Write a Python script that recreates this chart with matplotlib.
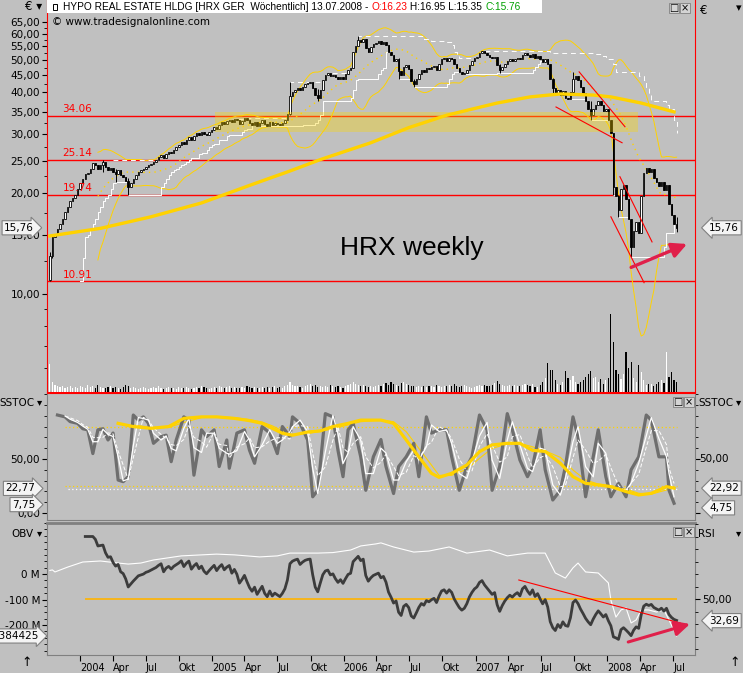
import matplotlib
matplotlib.use("Agg")
import matplotlib.pyplot as plt
import matplotlib.dates as mdates
from matplotlib import font_manager
from matplotlib.patches import Rectangle
from matplotlib.text import Annotation
from matplotlib.ticker import FixedLocator, FuncFormatter, NullFormatter, MultipleLocator
import numpy as np
import pandas as pd

# ---- weekly closes in EUR, one list per calendar year ----
close_2003 = [13.0, 14.8, 15.0, 15.6, 16.2, 16.8, 17.6, 18.2, 19.0, 19.4,
              19.8, 20.6]
close_2004 = [21.5, 22.0, 22.8, 23.0, 23.6, 24.6, 24.3, 23.6,
              24.2, 24.8, 24.0, 23.5, 23.8, 23.2, 22.8, 23.4, 22.6, 22.4,
              21.8, 20.8, 21.4, 22.0, 22.6, 23.2, 23.4, 23.6, 24.0, 24.2,
              24.5, 24.8, 25.1, 25.6, 26.0, 25.4, 26.2, 26.6, 26.4, 27.0,
              27.4, 27.8, 28.4, 28.0, 28.8, 29.4, 28.8, 29.6, 30.2, 29.8,
              30.4, 30.0, 29.8, 30.4, 31.0]
close_2005 = [31.6, 31.2, 32.0, 32.6, 32.2,
              32.8, 33.2, 32.6, 33.4, 33.0, 32.2, 32.8, 33.6, 33.0, 32.4,
              32.0, 32.6, 31.8, 32.4, 33.0, 32.2, 31.8, 32.6, 32.0, 32.4,
              32.2, 32.0, 32.4, 33.0, 34.4, 39.0, 40.2, 40.8, 41.2, 40.6,
              41.6, 42.4, 42.8, 43.0, 41.2, 39.4, 38.6, 40.8, 43.6, 45.2,
              45.6, 44.8, 45.2, 44.4, 43.8, 44.6, 44.0]
close_2006 = [45.4, 46.8, 47.2,
              53.0, 55.0, 57.4, 56.6, 57.8, 54.4, 53.0, 54.6, 55.8, 56.4,
              57.0, 56.0, 56.6, 55.4, 53.0, 51.6, 49.8, 50.4, 46.4, 45.0,
              47.6, 48.2, 47.0, 43.4, 42.4, 43.8, 45.4, 46.6, 46.0, 47.4,
              47.0, 47.6, 48.0, 46.8, 48.6, 50.2, 50.6, 49.8, 50.8, 50.2,
              48.6, 47.4, 46.2, 45.4, 45.8, 46.8, 48.4, 49.6, 50.6]
close_2007 = [51.2,
              52.6, 53.2, 52.4, 51.8, 51.2, 50.6, 51.0, 48.4, 46.6, 47.8,
              48.8, 49.6, 50.2, 49.8, 50.4, 50.8, 50.2, 51.8, 52.4, 51.6,
              51.0, 52.0, 50.8, 51.4, 50.4, 49.4, 50.2, 48.6, 44.0, 41.2,
              39.6, 40.8, 39.2, 40.4, 38.6, 38.2, 40.0, 44.0, 44.8, 43.6,
              41.6, 39.8, 37.6, 35.8, 34.2, 35.6, 36.8, 37.8, 36.6, 35.2,
              35.8]
close_2008 = [33.0, 30.2, 20.8, 19.6, 17.8, 20.6, 21.2, 19.2, 16.8,
              13.8, 15.4, 16.4, 15.2, 19.6, 23.0, 23.8, 23.2, 23.6, 22.2,
              21.6, 21.0, 21.6, 20.4, 21.2, 18.6, 17.2, 16.23, 15.76]
first_open = 11.0

# weeks with visible wicks beyond the body: week index, low, high
wick_weeks = [0, 1, 21, 26, 31, 95, 106, 122, 138, 144, 178, 199, 207, 214, 223, 225, 230, 248]
wick_lows = [10.91, 12.8, 23.2, 21.6, 19.8, 34.2, 37.6, 55.0, 44.0, 41.6, 45.8, 39.8, 40.0, 33.2, 19.8, 17.0, 12.9, 15.35]
wick_highs = [13.3, 15.0, 25.2, 23.6, 22.2, 43.0, 41.0, 59.0, 50.6, 44.0, 48.6, 44.2, 46.0, 37.8, 30.2, 19.8, 16.8, 16.95]

# weekly volume, millions of shares
vol_2003 = [14.0, 5.0, 3.5, 3.0, 2.5, 3.0, 2.0, 2.5, 3.0, 2.0, 2.5, 2.0]
vol_2004 = [3.0, 2.5, 2.0, 3.5, 2.5, 3.0, 2.0, 3.5, 2.5, 2.0,
            2.0, 2.5, 3.0, 2.0, 2.5, 2.0, 1.5, 2.5, 3.5, 3.0,
            2.0, 2.5, 2.0, 1.5, 2.0, 2.5, 2.0, 1.5, 2.0, 2.5,
            2.0, 3.0, 2.0, 1.5, 2.0, 2.5, 2.0, 2.0, 1.5, 2.5,
            2.0, 2.0, 2.5, 2.0, 1.5, 2.0, 2.5, 2.0, 3.0, 2.5,
            2.0, 1.5, 2.0]
vol_2005 = [2.5, 2.0, 3.0, 2.5, 2.0, 2.5, 3.0, 2.0, 2.5, 2.0,
            2.0, 2.5, 2.0, 3.0, 2.5, 2.0, 2.5, 2.0, 2.0, 2.5,
            2.0, 2.5, 2.0, 2.5, 3.0, 2.0, 2.5, 2.0, 3.0, 3.5,
            5.0, 3.5, 3.0, 3.0, 2.5, 2.0, 3.0, 3.5, 4.0, 3.0,
            3.5, 2.5, 3.0, 2.5, 3.0, 2.5, 3.5, 3.0, 2.5, 3.0,
            2.5, 2.0]
vol_2006 = [3.0, 3.5, 4.0, 5.0, 4.0, 3.5, 3.0, 3.5, 3.0, 2.5,
            3.0, 2.5, 3.0, 3.5, 3.0, 4.0, 4.5, 3.5, 5.0, 4.0,
            3.5, 3.0, 4.5, 5.0, 4.0, 3.5, 3.0, 3.0, 2.5, 3.0,
            2.5, 3.0, 2.5, 3.0, 3.0, 2.5, 3.5, 3.0, 2.5, 3.0,
            3.0, 3.5, 3.0, 4.0, 3.0, 2.5, 3.0, 3.5, 3.0, 2.5,
            2.0, 2.5]
vol_2007 = [3.0, 3.5, 3.0, 3.5, 3.0, 3.0, 3.5, 4.5, 5.5, 4.0, 3.5,
            3.0, 3.0, 3.5, 3.0, 3.5, 3.0, 3.0, 3.5, 4.0, 3.5,
            3.0, 4.0, 2.5, 2.5, 3.5, 5.0, 7.0, 14.5, 11.0, 11.0,
            6.0, 4.0, 3.5, 5.0, 10.5, 7.0, 6.0, 8.0, 5.0, 4.0,
            5.0, 6.0, 7.5, 9.0, 10.5, 7.0, 7.5, 5.0, 6.5, 4.0,
            6.0]
vol_2008 = [7.0, 39.0, 25.0, 11.0, 9.0, 6.5, 9.0, 20.0, 12.0, 15.0,
            7.0, 5.0, 13.5, 10.0, 6.0, 3.5, 4.0, 4.0, 3.0, 4.0,
            5.0, 6.0, 4.5, 20.0, 7.5, 10.0, 6.0, 5.0]

# long yellow average, read at a few weeks
ma_weeks = [0, 20, 40, 60, 79, 95, 107, 127, 142, 157, 177, 190, 202, 215, 222, 234, 247]
ma_values = [14.9, 15.7, 17.0, 18.7, 21.1, 23.3, 25.2, 28.3, 31.4, 34.2, 37.2, 38.8, 39.6, 39.3, 38.8, 37.2, 35.0]

# slow stochastic (grey line), read at these weeks
stoch_weeks = [3, 6, 8, 11, 13, 15, 17, 19, 21, 23, 25, 27, 29, 31, 33, 35, 37, 39, 41, 44,
               46, 48, 50, 53, 55, 57, 60, 62, 65, 67, 70, 71, 74, 77, 79, 81, 84, 87, 90, 92,
               95, 96, 99, 102, 104, 106, 109, 112, 114, 116, 118, 120, 123, 125, 128, 131, 133, 136, 138, 141,
               144, 146, 149, 151, 154, 157, 159, 162, 165, 167, 170, 173, 175, 178, 181, 183, 186, 189, 191, 194,
               196, 199, 202, 204, 207, 209, 212, 215, 217, 220, 222, 225, 228, 230, 233, 236, 238, 241, 244, 245,
               247]
stoch_values = [90.7, 89, 84.6, 83, 78, 77, 55, 77, 78, 67.6, 74, 30.5, 29, 33.6, 90.7, 86, 89, 83, 64.5, 70.7,
                72, 47.5, 67.6, 89, 86, 35, 77, 70.7, 77, 43, 67.6, 41.4, 74, 77, 58, 46, 80, 74, 55, 80,
                70.7, 89, 83, 67.6, 15, 21, 92, 89, 58, 33.6, 77, 83, 52, 21, 52, 68, 43, 18, 43, 52,
                64.5, 33.6, 89, 74, 77, 77, 52, 21, 43, 52, 90.7, 77, 21, 43, 92, 77, 49, 33.6, 43, 77,
                40, 12, 21, 43, 89, 70.7, 15, 52, 77, 33.6, 15, 27.5, 15, 40, 52, 90.7, 86, 52, 52, 21,
                9]
# long stochastic (thick yellow line), read at these weeks
lstoch_weeks = [27, 33, 40, 47, 53, 60, 66, 73, 79, 84, 88, 92, 96, 102, 107, 112, 118, 123, 131, 136,
                141, 146, 151, 154, 159, 165, 170, 175, 181, 186, 191, 196, 202, 207, 212, 217, 222, 228, 233, 238,
                244, 247]
lstoch_values = [83, 80, 78.4, 80, 87.6, 89, 89, 87.6, 85.5, 83, 78.4, 73.8, 72, 75, 76, 80, 83, 86, 86, 83,
                 67.6, 52, 36.7, 33, 36.7, 44.4, 56.8, 63, 64.5, 64.5, 58, 57, 46, 33.6, 27.5, 26, 24.4, 19.8, 16.7, 18.2,
                 24.4, 23]

# OBV (white line, lower panel), millions
obv_weeks = [0, 1, 2, 7, 13, 20, 27, 31, 36, 41, 52, 60, 66, 73, 83, 90, 95, 106, 112, 119,
             123, 129, 131, 136, 144, 150, 158, 165, 174, 181, 189, 196, 198, 200, 204, 207,
             209, 212, 217, 221, 222, 224, 226, 228, 230, 232, 234, 237, 240, 243, 245, 248]
obv_values = [14, 16, 8, 27, 47, 51, 43, 39, 43, 55, 71, 75, 78, 75, 67, 71, 82, 82, 84, 94,
              110, 118, 122, 106, 86, 90, 106, 82, 94, 71, 82, 82, 43, 4, -16, 24,
              43, 8, 4, -35, -102, -169, -141, -133, -192, -180, -141, -141, -149, -141, -180, -243]

support_levels = [34.06, 25.14, 19.74, 10.91]
zone_dates = ["2005-01-09", "2008-03-26"]
zone_prices = [30.5, 35.0]

# hand drawn trend lines (date, price) and arrows
trend_lines = [(("2007-08-12", 36.2), ("2008-02-11", 28.3)),
               (("2007-10-15", 46.1), ("2008-02-19", 31.6)),
               (("2008-02-05", 22.4), ("2008-05-04", 14.3)),
               (("2008-01-11", 17.0), ("2008-04-12", 10.8))]
price_arrow = (("2008-03-07", 12.0), ("2008-08-09", 14.1))
rsi_line = (("2007-05-01", 65.2), ("2008-07-21", 30.8))
rsi_arrow = (("2008-02-28", 15.6), ("2008-08-17", 30.0))

price_ticks = [10, 15, 20, 25, 30, 35, 40, 45, 50, 55, 60, 65]
price_minor = [6, 7, 8, 9, 12.5, 17.5, 22.5, 27.5, 32.5, 37.5, 42.5, 47.5, 52.5, 57.5, 62.5]
month_names = {4: "Apr", 7: "Jul", 10: "Okt"}

# ---------------------------------------------------------------------------
W, H = 743, 673
BG = "#C0C0C0"
GOLD = "#FFD200"
CRIMSON = "#E0204A"


def fx(px):
    return px / W


def fy(py):
    return 1 - py / H


def comma(v, _=None):
    return f"{v:.2f}".replace(".", ",")


names = {f.name for f in font_manager.fontManager.ttflist}
narrow = "Liberation Sans Narrow" if "Liberation Sans Narrow" in names else None
plt.rcParams["font.family"] = ["DejaVu Sans"]

closes = np.array(close_2003 + close_2004 + close_2005 + close_2006 + close_2007 + close_2008)
volumes = np.array(vol_2003 + vol_2004 + vol_2005 + vol_2006 + vol_2007 + vol_2008)
dates = pd.date_range("2003-10-10", periods=len(closes), freq="W-FRI")
x = mdates.date2num(dates)

opens = np.r_[first_open, closes[:-1]]
highs = np.maximum(opens, closes)
lows = np.minimum(opens, closes)
for i, lo, hi in zip(wick_weeks, wick_lows, wick_highs):
    lows[i] = min(lows[i], lo)
    highs[i] = max(highs[i], hi)
up = closes >= opens

c = pd.Series(closes)
hs, ls = pd.Series(highs), pd.Series(lows)
bb_mid = c.rolling(20).mean()
bb_sd = c.rolling(20).std(ddof=0)
bb_up, bb_lo = bb_mid + 2 * bb_sd, bb_mid - 2 * bb_sd
don_lo = ls.rolling(13).min()
don_hi = hs.rolling(26).max()

delta = c.diff()
gain = delta.clip(lower=0).ewm(alpha=1 / 14, min_periods=14, adjust=False).mean()
loss = (-delta.clip(upper=0)).ewm(alpha=1 / 14, min_periods=14, adjust=False).mean()
rsi = 100 - 100 / (1 + gain / loss)

# signal lines of the stochastic: short running means of the read points
k = pd.Series(stoch_values)
d1 = k.rolling(2).mean()
d2 = k.rolling(3, min_periods=2).mean()
lk = pd.Series(lstoch_values)
lk_thin = lk.rolling(2).mean()

xlim = (mdates.date2num(pd.Timestamp("2003-10-02")), mdates.date2num(pd.Timestamp("2008-08-31")))

fig = plt.figure(figsize=(7.43, 6.73), dpi=100, facecolor=BG)

# ---------------- price panel ----------------
ax = fig.add_axes([fx(47), fy(392), fx(695) - fx(47), fy(0) - fy(392)], facecolor=BG)
ax.set_yscale("log")
ax.set_xlim(xlim)
ax.set_ylim(5.09, 75.6)

for lvl in support_levels:
    ax.axhline(lvl, color="#FF0000", lw=1.0, zorder=1)
    ax.text(x[5], lvl * 1.012, f"{lvl:.2f}", color="#FF0000", fontsize=7.5, va="bottom", zorder=6)

ax.plot(x, bb_up, color=GOLD, lw=0.7, zorder=2)
ax.plot(x, bb_lo, color=GOLD, lw=0.7, zorder=2)
ax.plot(x, bb_mid, color=GOLD, lw=1.0, ls=(0, (1, 3)), zorder=2)
ax.step(x, don_lo, where="post", color="white", lw=0.7, zorder=2)
ax.step(x, don_hi, where="post", color="white", lw=0.7, ls=(0, (5, 4)), zorder=2)

body_lo = np.minimum(opens, closes)
body_h = np.maximum(np.abs(closes - opens), closes * 0.006)
ax.vlines(x, lows, highs, color="black", lw=0.7, zorder=3)
ax.bar(x, body_h, bottom=body_lo, width=4.2, color=np.where(up, "white", "black"),
       edgecolor="black", linewidth=0.6, zorder=3)

z0, z1 = mdates.date2num(pd.to_datetime(zone_dates))
ax.add_patch(Rectangle((z0, zone_prices[0]), z1 - z0, zone_prices[1] - zone_prices[0],
                       facecolor="#FFD700", alpha=0.35, edgecolor="none", zorder=4))

ax.plot(x[ma_weeks], ma_values, color=GOLD, lw=2.4, zorder=5)

for (d0, p0), (d1_, p1) in trend_lines:
    ax.plot(mdates.date2num(pd.to_datetime([d0, d1_])), [p0, p1], color="#FF0000", lw=0.8, zorder=5)
(a0, pa0), (a1, pa1) = price_arrow
ax.annotate("", xy=(mdates.date2num(pd.Timestamp(a1)), pa1),
            xytext=(mdates.date2num(pd.Timestamp(a0)), pa0),
            arrowprops=dict(arrowstyle="-|>,head_length=0.9,head_width=0.45", color=CRIMSON,
                            lw=2.4, shrinkA=0, shrinkB=0), zorder=7)

ax.yaxis.set_major_locator(FixedLocator(price_ticks))
ax.yaxis.set_major_formatter(FuncFormatter(comma))
ax.yaxis.set_minor_locator(FixedLocator(price_minor))
ax.yaxis.set_minor_formatter(NullFormatter())
ax.tick_params(axis="y", which="both", left=True, right=True, labelleft=True, labelright=True,
               direction="out", colors="black", labelsize=7.5, pad=1.5)
ax.tick_params(axis="y", which="major", length=3.5)
ax.tick_params(axis="y", which="minor", length=2)
ax.tick_params(axis="x", bottom=False, labelbottom=False)
for side in ("left", "right", "bottom"):
    ax.spines[side].set_color("#FF0000")
ax.spines["top"].set_visible(False)

vol_ax = ax.twinx()
vol_ax.set_ylim(0, 196)
vol_ax.bar(x, volumes, width=3.2, color=np.where(up, "white", "black"), linewidth=0)
vol_ax.set_axis_off()

marker_box_r = dict(boxstyle="rarrow,pad=0.2", fc="#F4F4F4", ec="#808080", lw=0.8)
marker_box_l = dict(boxstyle="larrow,pad=0.2", fc="#F4F4F4", ec="#808080", lw=0.8)
ytr = ax.get_yaxis_transform()
ax.text(-0.02, closes[-1], comma(closes[-1]), transform=ytr, ha="right", va="center", fontsize=7.5,
        bbox=marker_box_r, clip_on=False, zorder=8)
ax.text(1.022, closes[-1], comma(closes[-1]), transform=ytr, ha="left", va="center", fontsize=7.5,
        bbox=marker_box_l, clip_on=False, zorder=8)

fig.text(fx(52), fy(22), "\u00a9 www.tradesignalonline.com", fontsize=7.5, va="center")
if narrow:
    fig.text(fx(340), fy(248), "HRX weekly", family=narrow, fontsize=22, va="center")
else:
    fig.text(fx(340), fy(248), "HRX weekly", family="Liberation Sans", fontsize=19, va="center")

# header bar
fig.add_artist(Rectangle((fx(47), fy(13)), fx(542) - fx(47), fy(0) - fy(13),
                         transform=fig.transFigure, fc="white", ec="none", zorder=5))
fig.add_artist(Rectangle((fx(53), fy(10)), fx(4), fy(4) - fy(10), transform=fig.transFigure,
                         fc="white", ec="black", lw=0.7, zorder=6))
prev = fig.text(fx(63), fy(12), "HYPO REAL ESTATE HLDG [HRX GER  W\u00f6chentlich] 13.07.2008 - ",
                family="Liberation Sans", fontsize=7.3, va="bottom", zorder=7)
for part, col in (("O:16.23", "#FF0000"), (" H:16.95 L:15.35 ", "black"), ("C:15.76", "#00A000")):
    prev = fig.add_artist(Annotation(part, xy=(1, 0), xycoords=prev, va="bottom", ha="left",
                                     color=col, family="Liberation Sans", fontsize=7.3, zorder=7))

fig.text(fx(25), fy(7), "\u20ac \u25be", fontsize=8.5, va="center", ha="left")
fig.text(fx(700), fy(11), "\u20ac", fontsize=8.5, va="center", ha="left")
fig.text(fx(736), fy(8), "\u25be", fontsize=8, va="center", ha="left")


def window_buttons(xl, yc):
    for dx, glyph in ((0, "\u25a1"), (11, "\u00d7")):
        fig.text(fx(xl + dx), fy(yc), glyph, fontsize=7, ha="center", va="center",
                 bbox=dict(boxstyle="square,pad=0.05", fc="#D4D4D4", ec="#808080", lw=0.6))


window_buttons(674, 8)

# ---------------- SSTOC panel ----------------
sax = fig.add_axes([fx(47), fy(520), fx(695) - fx(47), fy(393) - fy(520)], facecolor=BG)
sax.set_xlim(xlim)
sax.set_ylim(-6.5, 111.1)
sx = x[stoch_weeks]
lx = x[lstoch_weeks]
sax.hlines([80, 25], x[6], x[-1], colors=GOLD, lw=0.9, linestyles=(0, (1, 2)))
sax.hlines([22], x[7], x[-1], colors="white", lw=0.9, linestyles=(0, (1, 2)))
sax.plot(lx, lk_thin, color=GOLD, lw=0.8)
sax.plot(sx, k, color="#6E6E6E", lw=2.3)
sax.plot(sx, d1, color="white", lw=0.9)
sax.plot(sx, d2, color="white", lw=0.7, ls=(0, (4, 2)))
sax.plot(lx, lk, color=GOLD, lw=2.3)
sax.yaxis.set_major_locator(FixedLocator([0, 50]))
sax.yaxis.set_major_formatter(FuncFormatter(comma))
sax.yaxis.set_minor_locator(MultipleLocator(10))
sax.tick_params(axis="y", which="both", left=True, right=True, labelleft=True, labelright=False,
                direction="out", labelsize=7.5, pad=1.5)
sax.tick_params(axis="y", which="major", length=3.5)
sax.tick_params(axis="y", which="minor", length=2)
sax.tick_params(axis="x", bottom=False, labelbottom=False)
for side in ("left", "right", "bottom"):
    sax.spines[side].set_color("#808080")
sax.spines["top"].set_color("#FF0000")
str_ = sax.get_yaxis_transform()
sax.text(1.006, 50, "50,00", transform=str_, ha="left", va="center", fontsize=7.5, clip_on=False)

for val, lab in ((22.77, "22,77"), (7.75, "7,75")):
    sax.text(-0.018, val, lab, transform=str_, ha="right", va="center", fontsize=7.5,
             bbox=marker_box_r, clip_on=False)
for val, lab in ((22.92, "22,92"), (4.75, "4,75")):
    sax.text(1.022, val, lab, transform=str_, ha="left", va="center", fontsize=7.5,
             bbox=marker_box_l, clip_on=False)
fig.text(fx(35), fy(403), "SSTOC", fontsize=7.5, ha="right", va="center")
fig.text(fx(37), fy(402), "\u25be", fontsize=7.5, ha="left", va="center")
fig.text(fx(698), fy(403), "SSTOC", fontsize=7.5, ha="left", va="center")
fig.text(fx(736), fy(402), "\u25be", fontsize=7.5, ha="left", va="center")
window_buttons(678, 402)

# ---------------- OBV / RSI panel ----------------
oax = fig.add_axes([fx(47), fy(655), fx(695) - fx(47), fy(523) - fy(655)], facecolor=BG)
oax.set_xlim(xlim)
oax.set_ylim(-317.6, 200)
oax.plot(x[obv_weeks], obv_values, color="white", lw=0.8)
oax.yaxis.set_major_locator(FixedLocator([0, -100, -200]))
oax.yaxis.set_major_formatter(FuncFormatter(lambda v, _: f"{v:.0f} M"))
oax.yaxis.set_minor_locator(MultipleLocator(25))
oax.tick_params(axis="y", which="both", direction="out", labelsize=7.5, pad=1.5)
oax.tick_params(axis="y", which="major", length=3.5)
oax.tick_params(axis="y", which="minor", length=2)

qs = pd.date_range("2004-01-01", "2008-07-01", freq="QS")
oax.set_xticks(mdates.date2num(qs))
oax.set_xticklabels([str(d.year) if d.month == 1 else month_names[d.month] for d in qs], ha="left")
oax.tick_params(axis="x", direction="out", length=4, labelsize=7, pad=2)
for side in ("left", "right", "bottom"):
    oax.spines[side].set_color("#808080")
oax.spines["top"].set_color("#808080")
oax.spines["top"].set_linewidth(2)

rax = oax.twinx()
rax.set_ylim(5.2, 110.8)
rax.hlines(50, x[14], x[-1], colors="#FFB300", lw=1.2)
rax.plot(x, rsi, color="#3C3C3C", lw=2.0)
(r0, rv0), (r1, rv1) = rsi_line
rax.plot(mdates.date2num(pd.to_datetime([r0, r1])), [rv0, rv1], color="#FF0000", lw=0.8)
(q0, qv0), (q1, qv1) = rsi_arrow
rax.annotate("", xy=(mdates.date2num(pd.Timestamp(q1)), qv1),
             xytext=(mdates.date2num(pd.Timestamp(q0)), qv0),
             arrowprops=dict(arrowstyle="-|>,head_length=0.9,head_width=0.45", color=CRIMSON,
                             lw=2.2, shrinkA=0, shrinkB=0))
rax.yaxis.set_major_locator(FixedLocator([50]))
rax.yaxis.set_major_formatter(FuncFormatter(comma))
rax.yaxis.set_minor_locator(MultipleLocator(10))
rax.tick_params(axis="y", which="both", direction="out", labelsize=7.5, pad=1.5)
rax.tick_params(axis="y", which="major", length=3.5)
rax.tick_params(axis="y", which="minor", length=2)
for side in ("left", "right", "bottom", "top"):
    rax.spines[side].set_visible(False)

rax.text(1.022, 32.69, "32,69", transform=rax.get_yaxis_transform(), ha="left", va="center",
         fontsize=7.5, bbox=marker_box_l, clip_on=False)
oax.text(-0.012, obv_values[-1], "-243384425", transform=oax.get_yaxis_transform(), ha="right",
         va="center", fontsize=7.5, bbox=marker_box_r, clip_on=False)
fig.text(fx(33), fy(534), "OBV", fontsize=7.5, ha="right", va="center")
fig.text(fx(37), fy(533), "\u25be", fontsize=7.5, ha="left", va="center")
fig.text(fx(698), fy(534), "RSI", fontsize=7.5, ha="left", va="center")
fig.text(fx(736), fy(533), "\u25be", fontsize=7.5, ha="left", va="center")
window_buttons(678, 532)

fig.text(fx(27), fy(663), "\u2191", fontsize=9, ha="center", va="center")
fig.text(fx(735), fy(663), "\u2191", fontsize=9, ha="center", va="center")

fig.savefig("out.png", dpi=100, facecolor=BG)
